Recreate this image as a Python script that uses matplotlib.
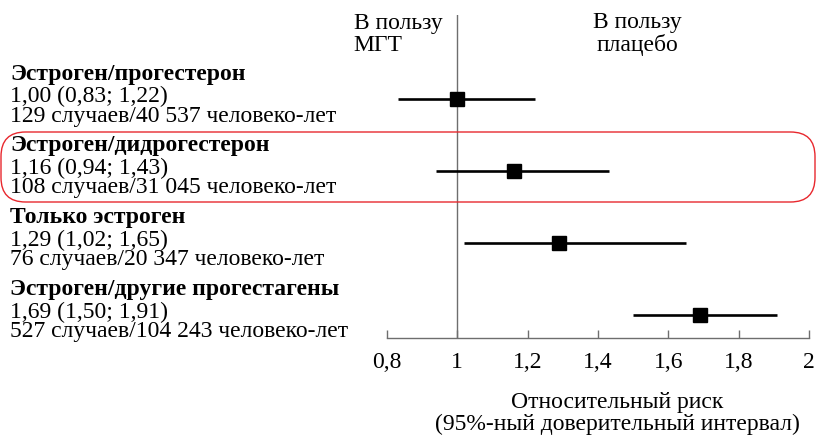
import matplotlib
matplotlib.use("Agg")
from matplotlib import pyplot as plt
from matplotlib import transforms
from matplotlib.patches import FancyBboxPatch

############# Data ############
groups = ["Эстроген/прогестерон", "Эстроген/дидрогестерон",
          "Только эстроген", "Эстроген/другие прогестагены"]
rr = [1.00, 1.16, 1.29, 1.69]
ci_low = [0.83, 0.94, 1.02, 1.50]
ci_high = [1.22, 1.43, 1.65, 1.91]
cases = ["129", "108", "76", "527"]
person_years = ["40 537", "31 045", "20 347", "104 243"]
xticks = [0.8, 1.0, 1.2, 1.4, 1.6, 1.8, 2.0]
xtick_labels = ["0,8", "1", "1,2", "1,4", "1,6", "1,8", "2"]
highlight = 1
###############################

def fmt(v):
    return f"{v:.2f}".replace(".", ",")

plt.rcParams['font.family'] = ['Liberation Serif', 'DejaVu Serif']
FS = 17
GRAY = "#6e6e6e"

W, H = 817, 436
fig = plt.figure(figsize=(W/100, H/100), dpi=100)
ax = fig.add_axes([387/W, 1-338/H, (809-387)/W, (338-15)/H])

n = len(groups)
ypos = [n - i for i in range(n)]

for i in range(n):
    ax.plot([ci_low[i], ci_high[i]], [ypos[i], ypos[i]], color="black", lw=1.9, solid_capstyle="butt", zorder=3)
    ax.plot(rr[i], ypos[i], marker="s", color="black", markersize=9.5, zorder=4)

ax.axvline(1.0, color=GRAY, lw=1.0, zorder=1)

ax.set_xlim(0.8, 2.0)
ax.set_ylim(0.68, n + 1.167)
ax.set_xticks(xticks)
ax.set_xticklabels(xtick_labels, fontsize=FS)
ax.set_yticks([])
for s in ["top", "right", "left"]:
    ax.spines[s].set_visible(False)
ax.spines["bottom"].set_color(GRAY)
ax.spines["bottom"].set_linewidth(1.0)
ax.tick_params(axis="x", direction="in", length=6, color=GRAY, width=1.0, pad=10)

# left column labels
tr = transforms.blended_transform_factory(fig.transFigure, ax.transData)
x0 = 10/W
for i in range(n):
    y = ypos[i]
    ax.text(x0, y + 25/72, groups[i], transform=tr, fontsize=FS, fontweight="bold", va="center", ha="left")
    ax.text(x0, y + 3/72, f"{fmt(rr[i])} ({fmt(ci_low[i])}; {fmt(ci_high[i])})", transform=tr, fontsize=FS, va="center", ha="left")
    ax.text(x0, y - 17/72, f"{cases[i]} случаев/{person_years[i]} человеко-лет", transform=tr, fontsize=FS, va="center", ha="left")

# header
ax.text(0.705, n + 0.9, "В пользу\nМГТ", fontsize=FS, ha="left", va="center", linespacing=1.05)
ax.text(1.511, n + 0.9, "В пользу\nплацебо", fontsize=FS, ha="center", va="center", linespacing=1.05)

# axis title
ax.text(1.455, 0.68 - 76/72, "Относительный риск\n(95%-ный доверительный интервал)", fontsize=FS,
        ha="center", va="center", linespacing=1.05)

# highlight box
box = FancyBboxPatch((1/W, 1-202/H), 814/W, 70/H, boxstyle="round,pad=0,rounding_size=0.03",
                     transform=fig.transFigure, fill=False, edgecolor="#e8282e", lw=1.0,
                     mutation_aspect=W/H)
fig.patches.append(box)

fig.savefig("out.png", dpi=100)
